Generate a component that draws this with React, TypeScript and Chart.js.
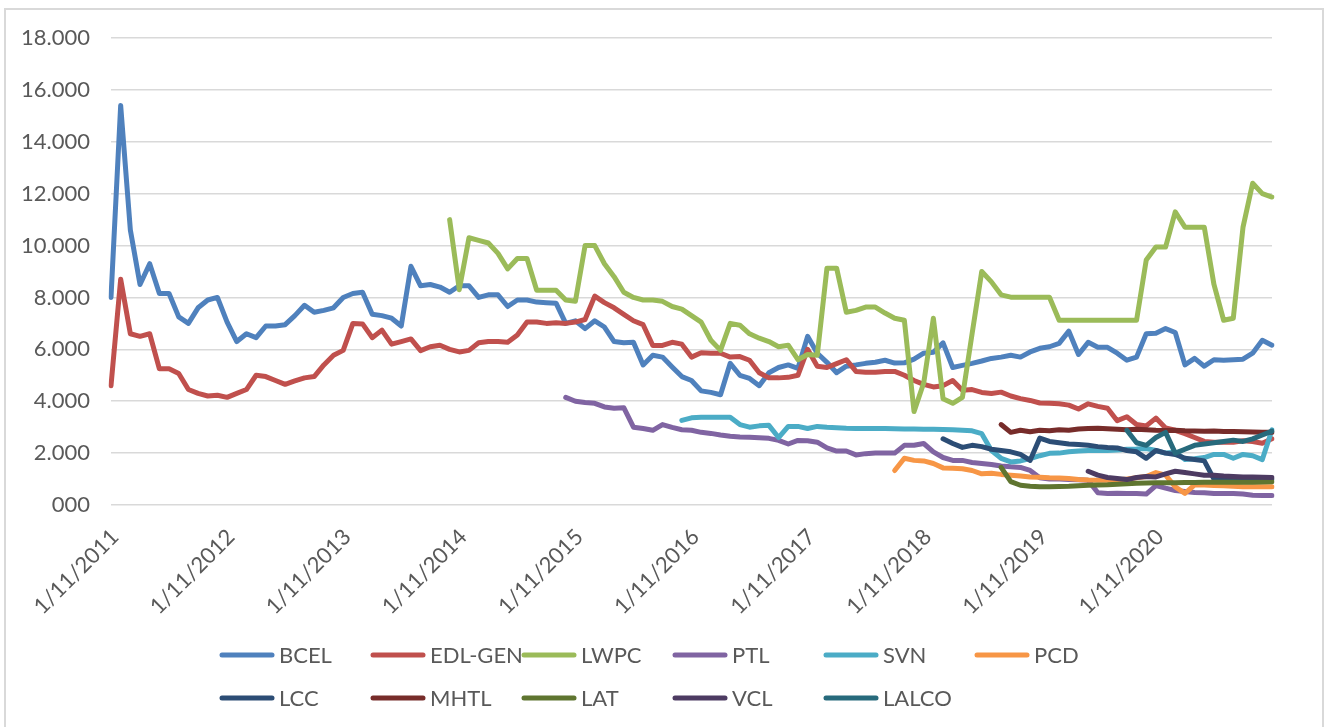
import React, { useEffect, useRef } from 'react';
import { Chart, registerables } from 'chart.js';

Chart.register(...registerables);

// ---- categories: monthly observation dates (m/d/yyyy) ----
const categories: string[] = [];
for (let y = 2011; y <= 2020; y++) {
  for (let m = 1; m <= 12; m++) categories.push(`${m}/11/${y}`);
}
categories.push('1/4/2021');

// ---- y axis ticks ----
const yMin = 0;
const yMax = 18000;
const yStep = 2000;

// ---- series (LAK), each starts at a category index ----
const BCEL_START = 0;
const BCEL = [
  8000, 15400, 10600, 8500, 9300, 8150, 8150, 7250, 7000, 7600,
  7900, 8000, 7050, 6300, 6600, 6450, 6900, 6900, 6950, 7300,
  7700, 7430, 7500, 7600, 8000, 8150, 8200, 7350, 7300, 7200,
  6900, 9200, 8450, 8500, 8400, 8200, 8450, 8450, 8000, 8100,
  8100, 7650, 7900, 7900, 7820, 7800, 7780, 7000, 7100, 6800,
  7100, 6860, 6300, 6250, 6270, 5400, 5770, 5700, 5320, 4950,
  4800, 4400, 4340, 4250, 5460, 5000, 4880, 4600, 5100, 5300,
  5400, 5270, 6500, 5850, 5500, 5100, 5350, 5400, 5460, 5500,
  5580, 5470, 5480, 5620, 5850, 5890, 6250, 5300, 5380, 5460,
  5550, 5650, 5700, 5770, 5700, 5900, 6040, 6100, 6230, 6700,
  5800, 6270, 6080, 6080, 5850, 5580, 5700, 6600, 6620, 6800,
  6650, 5400, 5650, 5350, 5600, 5580, 5600, 5620, 5850, 6350,
  6160,
];

const EDL_START = 0;
const EDL_GEN = [
  4600, 8700, 6600, 6500, 6600, 5250, 5250, 5070, 4450, 4300,
  4200, 4230, 4150, 4300, 4450, 5000, 4950, 4800, 4650, 4780,
  4900, 4950, 5400, 5770, 5960, 7000, 6980, 6450, 6740, 6200,
  6300, 6400, 5950, 6100, 6160, 6000, 5900, 5960, 6250, 6300,
  6300, 6270, 6550, 7050, 7050, 7000, 7020, 7000, 7050, 7150,
  8050, 7800, 7600, 7350, 7100, 6950, 6150, 6150, 6270, 6200,
  5700, 5870, 5850, 5850, 5700, 5720, 5580, 5100, 4900, 4900,
  4920, 5000, 6000, 5350, 5300, 5450, 5600, 5150, 5120, 5120,
  5150, 5150, 5000, 4800, 4650, 4550, 4600, 4800, 4420, 4450,
  4340, 4300, 4350, 4200, 4100, 4030, 3930, 3920, 3900, 3850,
  3700, 3900, 3800, 3730, 3250, 3400, 3100, 3050, 3350, 2970,
  2880, 2750, 2600, 2450, 2420, 2420, 2420, 2480, 2450, 2380,
  2550,
];

const LWPC_START = 35;
const LWPC = [
  11000, 8300, 10300, 10200, 10100, 9700, 9100, 9500, 9500, 8280,
  8280, 8280, 7900, 7850, 10000, 10000, 9300, 8800, 8200, 8000,
  7900, 7900, 7850, 7650, 7550, 7300, 7050, 6350, 5960, 7000,
  6930, 6600, 6430, 6300, 6100, 6160, 5600, 5800, 5770, 9130,
  9130, 7430, 7500, 7630, 7630, 7400, 7200, 7120, 3600, 4700,
  7200, 4100, 3920, 4150, 6600, 9000, 8600, 8100, 8010, 8010,
  8010, 8010, 8010, 7120, 7120, 7120, 7120, 7120, 7120, 7120,
  7120, 7120, 9440, 9940, 9940, 11300, 10710, 10710, 10710, 8500,
  7120, 7200, 10700, 12400, 12000, 11870,
];

const PTL_START = 47;
const PTL = [
  4150, 4000, 3950, 3920, 3780, 3730, 3750, 3000, 2950, 2880,
  3100, 2990, 2900, 2880, 2800, 2760, 2700, 2650, 2620, 2610,
  2590, 2570, 2490, 2350, 2490, 2480, 2420, 2200, 2080, 2080,
  1930, 1980, 2000, 2000, 2000, 2300, 2300, 2370, 2050, 1830,
  1720, 1720, 1640, 1600, 1560, 1500, 1470, 1450, 1330, 1050,
  1000, 1000, 980, 970, 950, 470, 440, 450, 440, 440,
  420, 750, 650, 560, 520, 480, 470, 440, 440, 440,
  420, 380, 370, 370,
];

const SVN_START = 59;
const SVN = [
  3260, 3360, 3380, 3380, 3380, 3380, 3100, 3000, 3050, 3070,
  2600, 3030, 3030, 2950, 3030, 3000, 2980, 2960, 2950, 2950,
  2950, 2950, 2940, 2930, 2930, 2920, 2920, 2910, 2900, 2880,
  2860, 2750, 2100, 1800, 1660, 1700, 1790, 1900, 1990, 2000,
  2050, 2080, 2100, 2100, 2100, 2120, 2150, 2160, 2180, 2100,
  2000, 2030, 1750, 1780, 1830, 1950, 1950, 1800, 1950, 1900,
  1750, 2900,
];

const PCD_START = 81;
const PCD = [
  1330, 1800, 1720, 1700, 1600, 1430, 1420, 1400, 1330, 1200,
  1220, 1180, 1150, 1120, 1080, 1070, 1050, 1040, 1020, 980,
  960, 950, 950, 960, 1000, 1050, 1100, 1250, 1150, 700,
  450, 780, 770, 750, 740, 720, 700, 700, 700, 700,
];

const LCC_START = 86;
const LCC = [
  2550, 2370, 2220, 2300, 2250, 2150, 2100, 2050, 1950, 1720,
  2580, 2450, 2400, 2350, 2330, 2300, 2250, 2220, 2200, 2100,
  2050, 1800, 2100, 2000, 1950, 1800, 1750, 1700, 1000, 980,
  990, 1000, 1000, 1000, 1000,
];

const MHTL_START = 92;
const MHTL = [
  3100, 2800, 2880, 2820, 2880, 2860, 2900, 2880, 2930, 2950,
  2960, 2940, 2920, 2900, 2920, 2900, 2880, 2870, 2880, 2860,
  2850, 2840, 2850, 2830, 2830, 2820, 2810, 2800, 2800,
];

const LAT_START = 92;
const LAT = [
  1450, 900, 760, 720, 700, 700, 710, 720, 740, 760,
  770, 780, 800, 820, 840, 850, 860, 860, 860, 870,
  870, 880, 880, 880, 880, 880, 880, 890, 900,
];

const VCL_START = 101;
const VCL = [
  1300, 1150, 1060, 1020, 980, 1060, 1100, 1080, 1200, 1300,
  1250, 1200, 1150, 1150, 1120, 1100, 1080, 1080, 1070, 1060,
];

const LALCO_START = 105;
const LALCO = [
  2880, 2400, 2300, 2600, 2800, 2000, 2150, 2300, 2350, 2400,
  2450, 2500, 2450, 2550, 2700, 2850,
];

const seriesNames = ['BCEL', 'EDL-GEN', 'LWPC', 'PTL', 'SVN', 'PCD', 'LCC', 'MHTL', 'LAT', 'VCL', 'LALCO'];
const seriesStarts = [BCEL_START, EDL_START, LWPC_START, PTL_START, SVN_START, PCD_START, LCC_START, MHTL_START, LAT_START, VCL_START, LALCO_START];
const seriesValues = [BCEL, EDL_GEN, LWPC, PTL, SVN, PCD, LCC, MHTL, LAT, VCL, LALCO];

// ---- styles ----
const seriesColors = ['#4F81BD', '#C0504D', '#9BBB59', '#8064A2', '#4BACC6', '#F79646', '#2C4D75', '#772C2A', '#5F7530', '#4D3B62', '#276A7C'];
const FONT_FAMILY = 'Lato, "Liberation Sans", sans-serif';
const TEXT_COLOR = '#595959';
const GRID_COLOR = '#D9D9D9';

const W = 1328;
const H = 727;
const PLOT_LEFT = 111;
const PLOT_RIGHT = 1272;
const PLOT_TOP = 38;
const PLOT_BOTTOM = 505;

const LEGEND_X0 = 220;
const LEGEND_COL = 151;
const LEGEND_ROWS_Y = [655, 698];
const LEGEND_PER_ROW = 6;

function pad(start: number, vals: number[]): (number | null)[] {
  const out: (number | null)[] = [];
  for (let i = 0; i < start; i++) out.push(null);
  return out.concat(vals);
}

const excelLegend = {
  id: 'excelLegend',
  afterDraw(chart: any) {
    const ctx = chart.ctx as CanvasRenderingContext2D;
    ctx.save();
    chart.data.datasets.forEach((ds: any, i: number) => {
      const row = Math.floor(i / LEGEND_PER_ROW);
      const col = i % LEGEND_PER_ROW;
      const x = LEGEND_X0 + col * LEGEND_COL;
      const y = LEGEND_ROWS_Y[row];
      ctx.strokeStyle = ds.borderColor;
      ctx.lineWidth = 5;
      ctx.lineCap = 'round';
      ctx.beginPath();
      ctx.moveTo(x + 2, y);
      ctx.lineTo(x + 52, y);
      ctx.stroke();
      ctx.fillStyle = TEXT_COLOR;
      ctx.font = `22px ${FONT_FAMILY}`;
      ctx.textAlign = 'left';
      ctx.textBaseline = 'middle';
      ctx.fillText(ds.label, x + 59, y + 1);
    });
    ctx.restore();
  },
};

export default function App() {
  const ref = useRef<HTMLCanvasElement>(null);

  useEffect(() => {
    if (!ref.current) return;
    const datasets = seriesNames.map((name, i) => ({
      label: name,
      data: pad(seriesStarts[i], seriesValues[i]),
      borderColor: seriesColors[i],
      backgroundColor: seriesColors[i],
      borderWidth: 5,
      borderCapStyle: 'round' as const,
      borderJoinStyle: 'round' as const,
      pointRadius: 0,
      tension: 0,
      fill: false,
      order: seriesNames.length - i,
    }));

    const chart = new Chart(ref.current, {
      type: 'line',
      data: { labels: categories, datasets },
      options: {
        responsive: false,
        devicePixelRatio: 1,
        animation: false,
        events: [],
        layout: { padding: { top: PLOT_TOP, right: W - PLOT_RIGHT, left: 0, bottom: 0 } },
        plugins: { legend: { display: false }, tooltip: { enabled: false } },
        scales: {
          x: {
            type: 'category',
            offset: false,
            grid: { display: false, drawTicks: false },
            border: { display: false },
            ticks: {
              autoSkip: false,
              maxRotation: 45,
              minRotation: 45,
              padding: 19,
              labelOffset: 4,
              color: TEXT_COLOR,
              font: { family: FONT_FAMILY, size: 22 },
              callback: (_v: any, idx: number) => (categories[idx].startsWith('1/11/') ? categories[idx] : null),
            },
            afterFit: (axis: any) => {
              axis.height = H - PLOT_BOTTOM;
            },
          },
          y: {
            min: yMin,
            max: yMax,
            grid: { color: GRID_COLOR, lineWidth: 1.5, drawTicks: false },
            border: { display: false },
            ticks: {
              stepSize: yStep,
              padding: 21,
              color: TEXT_COLOR,
              font: { family: FONT_FAMILY, size: 22 },
              callback: (v: any) => (Number(v) === 0 ? '000' : `${Number(v) / 1000}.000`),
            },
            afterFit: (axis: any) => {
              axis.width = PLOT_LEFT;
            },
          },
        },
      },
      plugins: [excelLegend],
    });
    return () => chart.destroy();
  }, []);

  return (
    <div style={{ position: 'fixed', left: 0, top: 0, width: W, height: H, background: '#fff', overflow: 'hidden' }}>
      <div
        style={{
          position: 'absolute',
          left: 4,
          top: 8,
          width: 1320,
          height: 760,
          border: '2px solid #D9D9D9',
          boxSizing: 'border-box',
        }}
      />
      <canvas ref={ref} width={W} height={H} style={{ position: 'absolute', left: 0, top: 0, width: W, height: H }} />
    </div>
  );
}
